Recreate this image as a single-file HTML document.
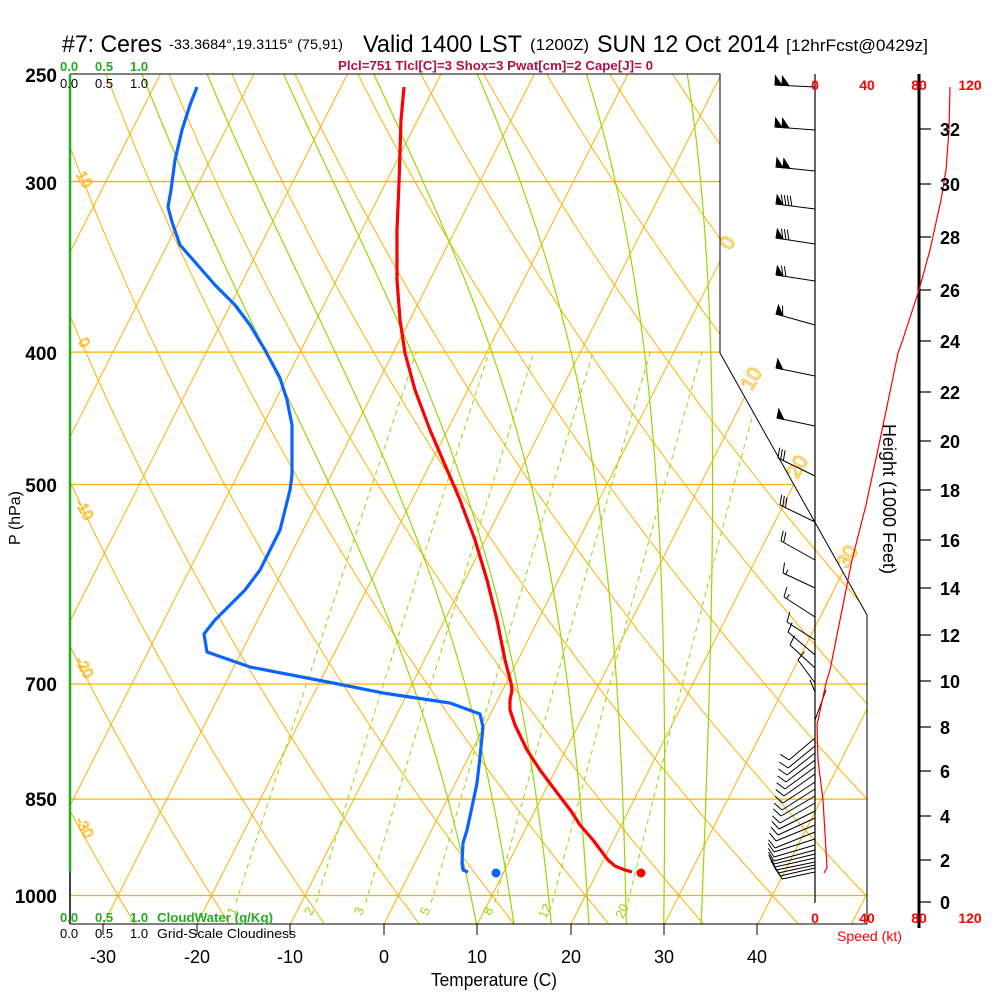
<!DOCTYPE html>
<html><head><meta charset="utf-8"><style>
html,body{margin:0;padding:0;background:#fff;}
svg{display:block;font-family:"Liberation Sans",Arial,sans-serif;}
</style></head><body>
<svg id="s" width="1000" height="1000" viewBox="0 0 1000 1000" xmlns="http://www.w3.org/2000/svg">
<rect width="1000" height="1000" fill="#fff"/>
<defs>
<clipPath id="cp"><polygon points="70,74 720,74 720,353 867,615 867,924 70,924"/></clipPath>
</defs>
<g id="grid" clip-path="url(#cp)" fill="none"></g>
<g id="labels"></g>
<!-- frame -->
<polyline points="70,74 720,74 720,353 867,615 867,924 70,924" fill="none" stroke="#000" stroke-width="1"/>
<line x1="70" y1="872" x2="70" y2="924" stroke="#000" stroke-width="1.5"/>
<line x1="70" y1="74" x2="70" y2="872" stroke="#22aa22" stroke-width="2.5"/>
<g stroke="#000" stroke-width="1">
<line x1="103" y1="924" x2="103" y2="935"/><line x1="197" y1="924" x2="197" y2="935"/>
<line x1="290" y1="924" x2="290" y2="935"/><line x1="384" y1="924" x2="384" y2="935"/>
<line x1="477" y1="924" x2="477" y2="935"/><line x1="571" y1="924" x2="571" y2="935"/>
<line x1="664" y1="924" x2="664" y2="935"/><line x1="757" y1="924" x2="757" y2="935"/>
</g>
<!-- speed axis and height axis -->
<line x1="815" y1="74" x2="815" y2="903" stroke="#000" stroke-width="1.2"/>
<line x1="919" y1="74" x2="919" y2="928" stroke="#000" stroke-width="3"/>
<g id="hticks" stroke="#000" stroke-width="1.2"></g>
<g id="barbs" stroke="#000" stroke-width="1" fill="#000"></g>
<!-- height vs speed red -->
<polyline fill="none" stroke="#ff0000" stroke-width="1.2" points="950,87 949,130 946,170 941,200 930,250 919,290 902,342 898,353 880,440 866,505 852,560 840,620 830,670 826,683 817,725 818,760 823,800 826,850 827,868 824,873"/>
<!-- profiles -->
<polyline fill="none" stroke="#ff0000" stroke-width="3.2" stroke-linejoin="round" points="404,87 401,120 399,183 397,230 397,280 400,320 405,353 415,390 430,430 445,465 460,500 475,540 487,580 497,620 505,660 511,683 512,690 510,700 510,710 515,725 527,750 540,770 555,790 571,811 580,825 593,840 602,852 608,860 615,866 625,870 632,872"/>
<circle cx="641" cy="873" r="4.5" fill="#ff0000"/>
<polyline fill="none" stroke="#0a64ff" stroke-width="3.2" stroke-linejoin="round" points="197,87 190,105 182,130 175,160 171,190 168,207 172,222 180,245 195,262 215,285 235,305 250,325 265,350 280,378 287,400 292,425 292,450 292,475 290,490 285,510 280,530 270,550 260,570 245,590 230,605 215,620 204,634 207,652 250,667 333,683 383,693 450,703 480,714 483,727 480,757 477,783 472,807 467,830 463,843 462,863 463,870 468,872"/>
<circle cx="496" cy="873" r="4.5" fill="#0a64ff"/>
<!-- title -->
<text x="62" y="52" font-size="24" textLength="100" lengthAdjust="spacingAndGlyphs">#7: Ceres</text>
<text x="169" y="49" font-size="14" textLength="174" lengthAdjust="spacingAndGlyphs">-33.3684°,19.3115° (75,91)</text>
<text x="363" y="52" font-size="24" textLength="159" lengthAdjust="spacingAndGlyphs">Valid 1400 LST</text>
<text x="530" y="50" font-size="16" textLength="59" lengthAdjust="spacingAndGlyphs">(1200Z)</text>
<text x="597" y="52" font-size="24" textLength="182" lengthAdjust="spacingAndGlyphs">SUN 12 Oct 2014</text>
<text x="786" y="51" font-size="17" textLength="142" lengthAdjust="spacingAndGlyphs">[12hrFcst@0429z]</text>
<text x="338" y="70" font-size="13" font-weight="bold" fill="#b0104a" textLength="315" lengthAdjust="spacingAndGlyphs">Plcl=751 Tlcl[C]=3 Shox=3 Pwat[cm]=2 Cape[J]= 0</text>
<g font-size="13" font-weight="bold" fill="#22aa22">
<text x="60" y="71">0.0</text><text x="95" y="71">0.5</text><text x="130" y="71">1.0</text>
<text x="60" y="922">0.0</text><text x="95" y="922">0.5</text><text x="130" y="922">1.0</text>
<text x="157" y="922" textLength="116" lengthAdjust="spacingAndGlyphs">CloudWater (g/Kg)</text>
</g>
<g font-size="13" fill="#000">
<text x="60" y="88">0.0</text><text x="95" y="88">0.5</text><text x="130" y="88">1.0</text>
<text x="60" y="938">0.0</text><text x="95" y="938">0.5</text><text x="130" y="938">1.0</text>
<text x="157" y="938" textLength="139" lengthAdjust="spacingAndGlyphs">Grid-Scale Cloudiness</text>
</g>
<g font-size="19" font-weight="bold" text-anchor="end">
<text x="57" y="82">250</text><text x="57" y="190">300</text><text x="57" y="360">400</text>
<text x="57" y="492">500</text><text x="57" y="691">700</text><text x="57" y="806">850</text>
<text x="57" y="903">1000</text>
</g>
<g font-size="18" text-anchor="middle">
<text x="103" y="963">-30</text><text x="197" y="963">-20</text><text x="290" y="963">-10</text>
<text x="384" y="963">0</text><text x="477" y="963">10</text><text x="571" y="963">20</text>
<text x="664" y="963">30</text><text x="757" y="963">40</text>
</g>
<text x="431" y="986" font-size="18" textLength="126" lengthAdjust="spacingAndGlyphs">Temperature (C)</text>
<text transform="translate(20,518) rotate(-90)" font-size="16" text-anchor="middle">P (hPa)</text>
<text transform="translate(883,499) rotate(90)" font-size="18" text-anchor="middle">Height (1000 Feet)</text>
<g font-size="14" font-weight="bold" fill="#ff0000" text-anchor="middle">
<text x="815" y="90">0</text><text x="867" y="90">40</text><text x="919" y="90">80</text><text x="970" y="90">120</text>
<text x="815" y="923">0</text><text x="867" y="923">40</text><text x="919" y="923">80</text><text x="970" y="923">120</text>
</g>
<text x="837" y="941" font-size="14" fill="#ff0000" textLength="65" lengthAdjust="spacingAndGlyphs">Speed (kt)</text>
<g id="hlab" font-size="18" font-weight="bold"></g>
</svg>
<script>
(function(){
var NS="http://www.w3.org/2000/svg";
function Y(p){return 895.5-593*Math.log(1000/p);}
function X(T,p){return 384+9.35*T+0.507*(924-Y(p));}
function el(n,a,par,txt){var e=document.createElementNS(NS,n);for(var k in a)e.setAttribute(k,a[k]);if(txt!==undefined)e.textContent=txt;par.appendChild(e);return e;}
var g=document.getElementById('grid'),lab=document.getElementById('labels');
var OR="#ffb000",GR="#99d600";
// pressure lines
[[300,720],[400,720],[500,794],[700,867],[850,867],[1000,867]].forEach(function(a){var y=Y(a[0]);el('line',{x1:70,y1:y,x2:a[1],y2:y,stroke:OR,'stroke-width':1.3},g);});
// isotherms
for(var T=-120;T<=60;T+=10){var xb=384+9.35*T;el('line',{x1:xb,y1:924,x2:xb+0.507*850,y2:74,stroke:OR,'stroke-width':1},g);}
// dry adiabats
for(var th=-60;th<=200;th+=10){var pts=[];for(var p=1070;p>=240;p-=5){var t=(th+273.15)*Math.pow(p/1000,0.2857)-273.15;pts.push(X(t,p).toFixed(1)+","+Y(p).toFixed(1));}
el('polyline',{points:pts.join(' '),stroke:OR,'stroke-width':1},g);}
// moist adiabats
function es(tc){return 6.112*Math.exp(17.67*tc/(tc+243.5));}
[10,14,18,22,26,30,34].forEach(function(t0){var p=1052,T=t0+273.15,pts=[];
while(p>=245){pts.push(X(T-273.15,p).toFixed(1)+","+Y(p).toFixed(1));
var e=es(T-273.15),rs=0.622*e/(p-e),Lv=2.5e6,Rd=287,cp=1005;
var dTdp=(1/p)*(Rd*T+Lv*rs)/(cp+Lv*Lv*rs*0.622/(Rd*T*T));T+=dTdp*(-1);p-=1;}
el('polyline',{points:pts.join(' '),stroke:GR,'stroke-width':1.2},g);});
// mixing ratio lines
var wl=[1,2,3,5,8,12,20];
wl.forEach(function(w){var pts=[];for(var p=1012;p>=400;p-=4){var e=w*p/(622+w);var l=Math.log(e/6.112);var t=243.5*l/(17.67-l);pts.push(X(t,p).toFixed(1)+","+Y(p).toFixed(1));}
el('polyline',{points:pts.join(' '),stroke:GR,'stroke-width':1,'stroke-dasharray':'5,4'},g);});
// mixing ratio labels
[[236,"1"],[313,"2"],[363,"3"],[429,"5"],[492,"8"],[549,"12"],[626,"20"]].forEach(function(a){el('text',{transform:'translate('+a[0]+',913) rotate(-65)','font-size':13,fill:GR,'text-anchor':'middle'},lab,a[1]);});
// isotherm labels right
[[733,246,"0"],[757,382,"10"],[803,470,"20"],[853,560,"30"]].forEach(function(a){el('text',{transform:'translate('+a[0]+','+a[1]+') rotate(-60)','font-size':20,fill:'none',stroke:OR,'stroke-width':0.8,'text-anchor':'middle'},lab,a[2]);});
// dry adiabat labels left
[[80,182,"10"],[80,345,"0"],[80,512,"-10"],[80,670,"-20"],[80,830,"-30"]].forEach(function(a){el('text',{transform:'translate('+a[0]+','+a[1]+') rotate(60)','font-size':15,fill:'none',stroke:OR,'stroke-width':0.8,'text-anchor':'middle'},lab,a[2]);});
// height ticks
var ht=[[32,129],[30,184],[28,237],[26,290],[24,341],[22,392],[20,441],[18,490],[16,540],[14,588],[12,635],[10,681],[8,727],[6,771],[4,816],[2,860],[0,902]];
var hg=document.getElementById('hticks'),hl=document.getElementById('hlab');
ht.forEach(function(a){el('line',{x1:919,y1:a[1],x2:931,y2:a[1]},hg);el('text',{x:940,y:a[1]+7},hl,String(a[0]));});
// barbs
var bg=document.getElementById('barbs');
function barb(lx,ly,rx,ry,F,B,H){var dx=lx-rx,dy=ly-ry,L=Math.sqrt(dx*dx+dy*dy),ux=dx/L,uy=dy/L;var px=uy,py=-ux;if(py>0){px=-px;py=-py;}
el('line',{x1:rx,y1:ry,x2:lx,y2:ly},bg);var pos=0;
for(var i=0;i<F;i++){var ax=lx-ux*pos,ay=ly-uy*pos,bx=lx-ux*(pos+7),by=ly-uy*(pos+7);
el('polygon',{points:ax+","+ay+" "+(ax+px*9)+","+(ay+py*9)+" "+bx+","+by},bg);pos+=7;}
for(var j=0;j<B;j++){var cx=lx-ux*pos,cy=ly-uy*pos;el('line',{x1:cx,y1:cy,x2:cx+px*10+ux*3,y2:cy+py*10+uy*3,fill:'none'},bg);pos+=3;}
if(H){var cx=lx-ux*pos,cy=ly-uy*pos;el('line',{x1:cx,y1:cy,x2:cx+px*5,y2:cy+py*5},bg);}}
barb(775,85,815,87,2,0);barb(775,127,815,130,2,0);barb(776,167,815,171,2,0);
barb(776,204,815,209,1,4);barb(776,238,815,244,1,3);barb(776,275,815,281,1,2);barb(776,314,815,325,1,1);
barb(776,368,815,376,1,0);barb(777,418,815,426,1,0);
barb(778,458,815,476,0,3);barb(780,505,815,522,0,3);barb(781,541,815,560,0,2);barb(783,573,815,588,0,1,1);barb(784,597,815,617,0,1,1);
barb(787,622,815,640,0,1);barb(788,632,815,655,0,1);barb(790,645,815,668,0,1);barb(798,660,815,683,0,1);barb(810,680,815,692,0,0);
barb(826,690,815,720,0,0);
var low=[[738,789,760],[746,788,768],[753,787,775],[760,786,782],[767,785,789],[774,784,796],[782,783,803],[789,782,810],[796,781,816],[803,780,823],[811,779,829],[818,778,835],[825,776,841],[832,775,848],[839,774,852],[845,774,857],[850,774,861],[854,774,864],[858,775,867],[862,776,870],[865,778,873],[868,780,876],[872,782,879]];
low.forEach(function(a){barb(a[1],a[2],815,a[0],0,1);});
})();
</script>
</body></html>
